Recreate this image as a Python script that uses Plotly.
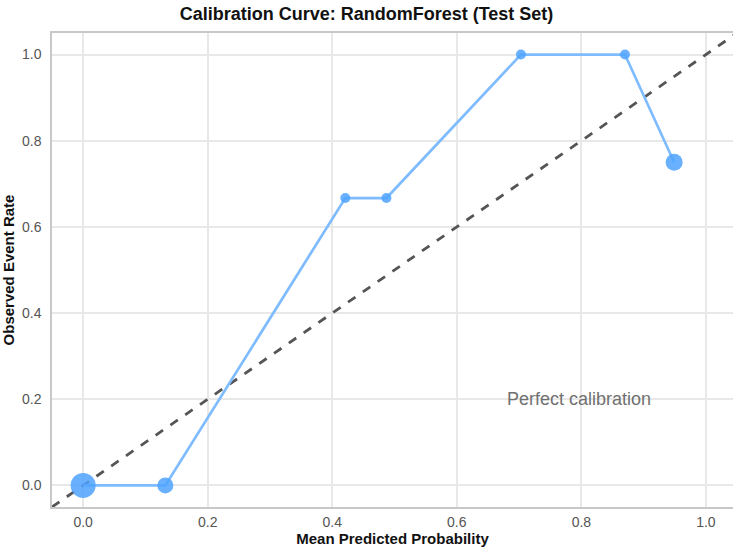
import plotly.graph_objects as go

# Calibration bins: mean predicted probability vs observed event rate
mean_pred = [0.0, 0.132, 0.421, 0.487, 0.703, 0.870, 0.949]
observed = [0.0, 0.0, 0.667, 0.667, 1.0, 1.0, 0.75]
marker_sizes = [25, 16, 10, 10, 10, 10, 17]

diag = [-0.05, 1.05]

FONT = "Liberation Sans, Arial, sans-serif"

fig = go.Figure()

fig.add_trace(go.Scatter(
    x=diag, y=diag, mode="lines",
    line=dict(color="#555555", width=2.8, dash="dash"),
    hoverinfo="skip", showlegend=False,
))

fig.add_trace(go.Scatter(
    x=mean_pred, y=observed, mode="lines",
    line=dict(color="#7fbcff", width=2.7),
    showlegend=False,
))

fig.add_trace(go.Scatter(
    x=mean_pred, y=observed, mode="markers",
    marker=dict(color="#4fa3ff", opacity=0.85, size=marker_sizes, line=dict(width=0)),
    showlegend=False,
))

fig.add_annotation(
    x=0.797, y=0.2, text="Perfect calibration", showarrow=False,
    font=dict(family=FONT, size=18, color="#707070"),
)

axis_common = dict(
    showgrid=True, gridcolor="#e8e8e8", gridwidth=1.5,
    zeroline=False, showline=True, linecolor="#c8c8c8", linewidth=1.5,
    ticks="", dtick=0.2, tickformat=".1f",
    tickfont=dict(family=FONT, size=14, color="#555555"),
)

fig.update_layout(
    width=733, height=548,
    margin=dict(l=52, r=0, t=33, b=41),
    paper_bgcolor="white", plot_bgcolor="white",
    title=dict(
        text="<b>Calibration Curve: RandomForest (Test Set)</b>",
        x=0.5, xanchor="center", y=0.975, yanchor="middle",
        font=dict(family=FONT, size=18, color="#111111"),
    ),
    xaxis=dict(
        range=[-0.05, 1.0435], mirror=True, ticklabelstandoff=1,
        title=dict(text="<b>Mean Predicted Probability</b>", standoff=3,
                   font=dict(family=FONT, size=15, color="#111111")),
        **axis_common,
    ),
    yaxis=dict(
        range=[-0.05, 1.05], mirror=False, ticklabelstandoff=6,
        title=dict(text="<b>Observed Event Rate</b>", standoff=6,
                   font=dict(family=FONT, size=15, color="#111111")),
        **axis_common,
    ),
)

fig.write_html("out.html")
